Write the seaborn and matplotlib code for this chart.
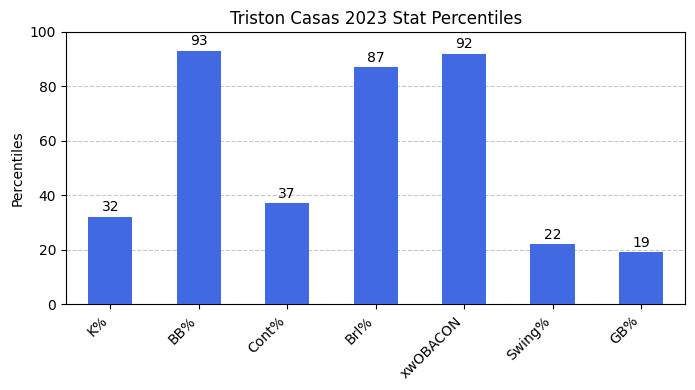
import matplotlib
matplotlib.use("Agg")
import matplotlib.pyplot as plt
import seaborn as sns
import pandas as pd

stats = ["K%", "BB%", "Cont%", "Brl%", "xwOBACON", "Swing%", "GB%"]
percentiles = [32, 93, 37, 87, 92, 22, 19]

df = pd.DataFrame({"stat": stats, "pct": percentiles})

fig, ax = plt.subplots(figsize=(6.95, 3.9), dpi=100)
sns.barplot(data=df, x="stat", y="pct", color="royalblue", saturation=1, width=0.5, ax=ax, zorder=3)
ax.set_ylim(0, 100)
ax.set_xlim(-0.5, len(stats) - 0.5)
ax.yaxis.grid(True, linestyle="--", alpha=0.7, zorder=0)
ax.set_axisbelow(True)
ax.set_title("Triston Casas 2023 Stat Percentiles")
ax.set_ylabel("Percentiles")
ax.set_xlabel("")
plt.setp(ax.get_xticklabels(), rotation=45, ha="right")
for c in ax.containers:
    ax.bar_label(c, padding=2)
fig.subplots_adjust(left=0.095, right=0.986, top=0.918, bottom=0.22)
fig.savefig("out.png", dpi=100)
